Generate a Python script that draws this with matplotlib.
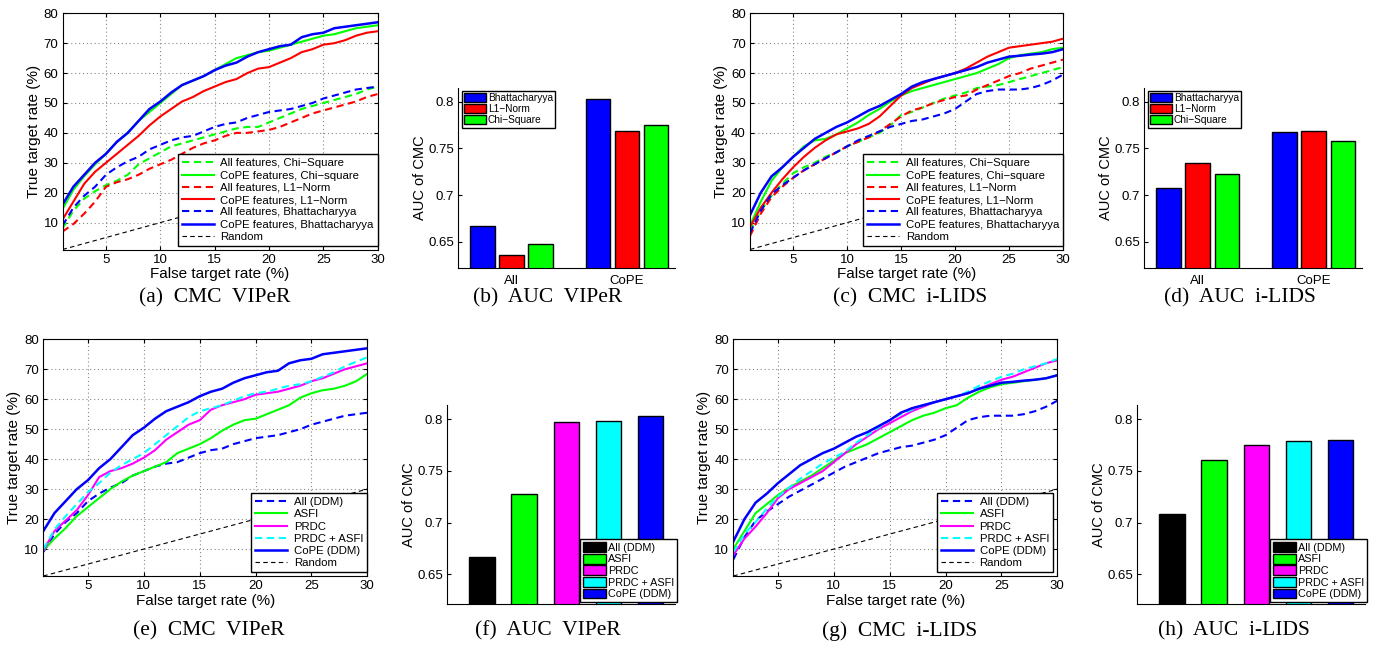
import numpy as np
import matplotlib
matplotlib.use("Agg")
import matplotlib.pyplot as plt

plt.rcParams['font.family'] = ['Liberation Sans', 'DejaVu Sans']

# ---------------- data ----------------
fpr = list(range(1, 31))

# VIPeR (a), (e)
viper_cope_bhatt = [16, 22, 26, 30, 33, 37, 40, 44, 48, 50.5, 53.5, 56, 57.5, 59, 61, 62.5, 63.5, 65.5, 67, 68,
                    69, 69.5, 72, 73, 73.5, 75, 75.5, 76, 76.5, 77]
viper_cope_chi = [14.5, 21, 25.5, 29.5, 33, 37, 40, 44, 47, 50, 53, 56, 57.5, 59, 61, 63, 65, 66, 67, 67.5,
                  68.5, 69.5, 70.5, 71.5, 72.5, 73, 74, 75, 75.5, 76]
viper_cope_l1 = [11, 17, 23, 27, 30, 33, 36, 39, 42.5, 45.5, 48, 50.5, 52, 54, 55.5, 57, 58, 60, 61.5, 62,
                 63.5, 65, 67, 68, 69.5, 70, 71, 72.5, 73.5, 74]
viper_all_bhatt = [9, 15, 19, 22, 26, 28.5, 30.5, 32, 34.5, 36, 37.5, 38.5, 39, 40.5, 42, 43, 43.5, 45, 46, 47,
                   47.5, 48, 49, 50, 51.5, 52.5, 53.5, 54.5, 55, 55.5]
viper_all_chi = [8, 14, 18, 20.5, 22.5, 24, 26, 29.5, 31.5, 33.5, 35.5, 36.5, 37.5, 38.5, 39.5, 40.5, 41.5, 42, 42,
                 43.5, 45, 46.5, 48, 49, 50, 51, 52, 53, 54.5, 55.5]
viper_all_l1 = [7, 9.5, 13, 17, 22, 23.5, 24.5, 26, 28, 29.5, 31, 33, 35, 36.5, 37.5, 39, 40, 40, 40.5, 41,
                42, 43.5, 45, 46.5, 47.5, 48.5, 49.5, 50.5, 52, 53]
viper_asfi = [9.5, 13.5, 17, 21, 24, 27, 30, 32.5, 34.5, 36, 37.5, 39, 42, 43.5, 45, 47, 49.5, 51.5, 53, 53.5,
              55, 56.5, 58, 60.5, 62, 63, 63.5, 64.5, 66, 68.5]
viper_prdc = [9.5, 16, 19.5, 23, 28, 34, 36, 37, 38.5, 40.5, 43, 46.5, 49, 51.5, 53, 56.5, 58, 59, 60, 61.5,
              62, 62.5, 63.5, 64.5, 66, 67, 68.5, 70, 71, 72]
viper_prdc_asfi = [10, 16.5, 21, 25, 29, 32, 35.5, 38, 40, 42, 45, 48, 51, 54, 56, 57, 58, 59.5, 61, 62,
                   62.5, 63.5, 64.5, 65, 66, 67.5, 69, 71, 72.5, 74]

# i-LIDS (c), (g)
ilids_cope_bhatt = [12.5, 20, 25.5, 28.5, 32, 35, 38, 40, 42, 43.5, 45.5, 47.5, 49, 51, 53, 55.5, 57, 58, 59, 60,
                    61, 62, 63.5, 64.5, 65.5, 65.8, 66.2, 66.5, 67, 68]
ilids_cope_chi = [9, 17, 24, 28.5, 32, 35.5, 37.5, 38, 39.5, 41.5, 43.5, 46, 48, 50.5, 52.5, 54, 55, 56, 57, 58,
                  59, 60, 61.5, 63, 65, 66, 66.5, 67, 68, 68.5]
ilids_cope_l1 = [8.5, 15, 20, 24.5, 28.5, 32, 35, 37.5, 39.5, 40.5, 41.5, 43, 45.5, 49, 52.5, 55, 56.5, 58, 59, 60,
                 61.5, 63.5, 65.5, 67, 68.5, 69, 69.5, 70, 70.5, 71.5]
ilids_all_chi = [7, 14, 19, 23, 26.5, 28.5, 30, 32, 33.5, 35.5, 37, 38.5, 40, 42.5, 46, 47, 48.5, 50, 51.5, 52.5,
                 53.5, 55, 55.5, 56, 57, 58, 59, 60, 61, 62]
ilids_all_l1 = [5.5, 13, 18.5, 22, 25, 27.5, 29.5, 31.5, 33.5, 35.5, 37, 38.5, 40.5, 43, 45.5, 47.5, 48.5, 50, 51, 52,
                52.5, 54.5, 56, 57.5, 59, 60, 61.5, 62.5, 63.5, 64.5]
ilids_all_bhatt = [6.5, 14, 19.5, 22.5, 25, 27.5, 29.5, 31.5, 33.5, 35.5, 37.5, 39, 40.5, 42, 43, 44, 44.5, 45.5, 46.5, 48,
                   50.5, 53, 54, 54.5, 54.5, 54.5, 55, 56, 57.5, 59.5]
ilids_asfi = [10, 16, 22, 25, 28, 30.5, 32.5, 34.5, 37, 39.5, 42, 43.5, 45, 47, 49, 51, 53, 54.5, 55.5, 57,
              58, 60.5, 62.5, 64, 65, 65.5, 66, 66.5, 67, 68]
ilids_prdc = [8, 13.5, 17.5, 22, 27, 30, 32, 34, 36, 39, 42, 45, 47.5, 50, 52, 54, 56, 57.5, 59, 60,
              61, 62, 63.5, 65, 66.5, 67.5, 69, 70.5, 72, 73]
ilids_prdc_asfi = [9, 15, 19, 23.5, 27.5, 30.5, 33.5, 36, 38.5, 40.5, 42.5, 45.5, 48, 50.5, 53, 55, 56.5, 58, 59, 60,
                   61, 62.5, 64.5, 66, 67.5, 68.5, 70, 71, 72, 73.5]

# AUC bars
auc_groups = ["All", "CoPE"]
auc_metrics = ["Bhattacharyya", "L1\u2212Norm", "Chi\u2212Square"]
auc_viper = {"Bhattacharyya": [0.667, 0.803], "L1\u2212Norm": [0.636, 0.769], "Chi\u2212Square": [0.647, 0.775]}
auc_ilids = {"Bhattacharyya": [0.708, 0.768], "L1\u2212Norm": [0.734, 0.769], "Chi\u2212Square": [0.723, 0.758]}

method_names = ["All (DDM)", "ASFI", "PRDC", "PRDC + ASFI", "CoPE (DDM)"]
auc_viper_methods = [0.667, 0.728, 0.797, 0.798, 0.803]
auc_ilids_methods = [0.708, 0.761, 0.775, 0.779, 0.780]

# ---------------- style ----------------
BLUE, RED, GREEN, MAG, CYAN = '#0000FF', '#FF0000', '#00FF00', '#FF00FF', '#00FFFF'
DASH = (0, (3.5, 2.2))
W, H = 1379, 650

fig = plt.figure(figsize=(W / 100, H / 100), dpi=100)


def ax_at(x0, y0, x1, y1):
    return fig.add_axes([x0 / W, 1 - y1 / H, (x1 - x0) / W, (y1 - y0) / H])


def cmc_axes(ax):
    ax.set_xlim(1, 30)
    ax.set_ylim(1, 80)
    ax.set_xticks([5, 10, 15, 20, 25, 30])
    ax.set_yticks([10, 20, 30, 40, 50, 60, 70, 80])
    ax.grid(True, linestyle=(0, (1, 2.5)), color='#888888', linewidth=0.8)
    ax.tick_params(direction='in', length=3, labelsize=9.5, top=True, right=True, pad=3)
    for s in ax.spines.values():
        s.set_linewidth(0.8)
    ax.set_xlabel("False target rate (%)", fontsize=11, labelpad=1)
    ax.set_ylabel("True target rate (%)", fontsize=11, labelpad=2)


def cmc_legend(ax, right):
    leg = ax.legend(loc='lower right', bbox_to_anchor=(right, 0.015), borderaxespad=0,
                    fontsize=8.2, handlelength=2.8, labelspacing=0.2, handletextpad=0.6,
                    borderpad=0.35, fancybox=False, framealpha=1, edgecolor='black')
    leg.get_frame().set_linewidth(1.0)


def random_line(ax):
    ax.plot(fpr, fpr, color='black', linestyle=(0, (4, 3)), linewidth=0.8, label='Random')


# (a) CMC VIPeR
ax = ax_at(62.5, 13.3, 377.7, 249.5)
ax.plot(fpr, viper_all_chi, color=GREEN, ls=DASH, lw=1.5, label='All features, Chi\u2212Square')
ax.plot(fpr, viper_cope_chi, color=GREEN, lw=1.5, label='CoPE features, Chi\u2212square')
ax.plot(fpr, viper_all_l1, color=RED, ls=DASH, lw=1.5, label='All features, L1\u2212Norm')
ax.plot(fpr, viper_cope_l1, color=RED, lw=1.5, label='CoPE features, L1\u2212Norm')
ax.plot(fpr, viper_all_bhatt, color=BLUE, ls=DASH, lw=1.5, label='All features, Bhattacharyya')
ax.plot(fpr, viper_cope_bhatt, color=BLUE, lw=1.8, label='CoPE features, Bhattacharyya')
random_line(ax)
cmc_axes(ax)
cmc_legend(ax, 1.0)

# (c) CMC i-LIDS
ax = ax_at(750, 13.3, 1063, 249.5)
ax.plot(fpr, ilids_all_chi, color=GREEN, ls=DASH, lw=1.5, label='All features, Chi\u2212Square')
ax.plot(fpr, ilids_cope_chi, color=GREEN, lw=1.5, label='CoPE features, Chi\u2212square')
ax.plot(fpr, ilids_all_l1, color=RED, ls=DASH, lw=1.5, label='All features, L1\u2212Norm')
ax.plot(fpr, ilids_cope_l1, color=RED, lw=1.5, label='CoPE features, L1\u2212Norm')
ax.plot(fpr, ilids_all_bhatt, color=BLUE, ls=DASH, lw=1.5, label='All features, Bhattacharyya')
ax.plot(fpr, ilids_cope_bhatt, color=BLUE, lw=1.8, label='CoPE features, Bhattacharyya')
random_line(ax)
cmc_axes(ax)
cmc_legend(ax, 1.0)

# (e) CMC VIPeR methods
ax = ax_at(43.3, 339.3, 367.3, 576)
ax.plot(fpr, viper_all_bhatt, color=BLUE, ls=DASH, lw=1.5, label='All (DDM)')
ax.plot(fpr, viper_asfi, color=GREEN, lw=1.5, label='ASFI')
ax.plot(fpr, viper_prdc, color=MAG, lw=1.5, label='PRDC')
ax.plot(fpr, viper_prdc_asfi, color=CYAN, ls=DASH, lw=1.5, label='PRDC + ASFI')
ax.plot(fpr, viper_cope_bhatt, color=BLUE, lw=1.8, label='CoPE (DDM)')
random_line(ax)
cmc_axes(ax)
cmc_legend(ax, 1.0)

# (g) CMC i-LIDS methods
ax = ax_at(733.3, 339.3, 1057.3, 576)
ax.plot(fpr, ilids_all_bhatt, color=BLUE, ls=DASH, lw=1.5, label='All (DDM)')
ax.plot(fpr, ilids_asfi, color=GREEN, lw=1.5, label='ASFI')
ax.plot(fpr, ilids_prdc, color=MAG, lw=1.5, label='PRDC')
ax.plot(fpr, ilids_prdc_asfi, color=CYAN, ls=DASH, lw=1.5, label='PRDC + ASFI')
ax.plot(fpr, ilids_cope_bhatt, color=BLUE, lw=1.8, label='CoPE (DDM)')
random_line(ax)
cmc_axes(ax)
cmc_legend(ax, 0.987)


def bar_axes(ax, ylim):
    ax.set_ylim(*ylim)
    ax.set_yticks([0.65, 0.7, 0.75, 0.8])
    ax.set_yticklabels(['0.65', '0.7', '0.75', '0.8'])
    ax.spines['top'].set_visible(False)
    ax.spines['right'].set_visible(False)
    ax.spines['left'].set_linewidth(0.8)
    ax.spines['bottom'].set_linewidth(0.8)
    ax.tick_params(axis='y', direction='in', length=3, labelsize=9.5, pad=3)
    ax.tick_params(axis='x', length=0, labelsize=9.5, pad=5)
    ax.set_ylabel("AUC of CMC", fontsize=10.5, labelpad=1)


def grouped(ax, data, colors):
    xs = np.arange(1, len(auc_groups) + 1)
    offs = [-0.2515, 0, 0.2515]
    for m, o, c in zip(auc_metrics, offs, colors):
        ax.bar(xs + o, data[m], width=0.21, color=c, edgecolor='black', linewidth=1.0, label=m)
    ax.set_xticks(xs)
    ax.set_xticklabels(auc_groups)
    ax.set_xlim(0.537, 2.418)
    leg = ax.legend(loc='upper left', bbox_to_anchor=(0.018, 0.985), borderaxespad=0,
                    fontsize=7.3, handlelength=2.1, handleheight=0.95, labelspacing=0.1,
                    handletextpad=0.2, borderpad=0.25, fancybox=False, framealpha=1,
                    edgecolor='black')
    leg.get_frame().set_linewidth(1.0)


def methods(ax, vals, colors):
    xs = np.arange(1, len(method_names) + 1)
    ax.bar(xs, vals, width=0.6, color=colors, edgecolor='black', linewidth=1.0, label=None)
    handles = [plt.Rectangle((0, 0), 1, 1, facecolor=c, edgecolor='black', linewidth=1.0) for c in colors]
    ax.set_xticks([])
    ax.set_xlim(0.17, 5.58)
    leg = ax.legend(handles, method_names, loc='lower right', bbox_to_anchor=(1.008, 0.01),
                    borderaxespad=0, fontsize=7.8, handlelength=2.1, handleheight=1.0,
                    labelspacing=0.1, handletextpad=0.2, borderpad=0.25, fancybox=False,
                    framealpha=1, edgecolor='black')
    leg.get_frame().set_linewidth(1.0)


# (b) AUC VIPeR
ax = ax_at(458, 88, 675, 268)
grouped(ax, auc_viper, [BLUE, RED, GREEN])
bar_axes(ax, (0.6218, 0.8147))

# (d) AUC i-LIDS
ax = ax_at(1144, 88, 1362, 268)
grouped(ax, auc_ilids, [BLUE, RED, GREEN])
bar_axes(ax, (0.6218, 0.8147))

mcolors = ['black', GREEN, MAG, CYAN, BLUE]
# (f) AUC VIPeR methods
ax = ax_at(447, 405, 675, 604)
methods(ax, auc_viper_methods, mcolors)
bar_axes(ax, (0.6213, 0.8138))

# (h) AUC i-LIDS methods
ax = ax_at(1137, 405, 1365, 604)
methods(ax, auc_ilids_methods, mcolors)
bar_axes(ax, (0.6213, 0.8138))

captions = [("(a)  CMC  VIPeR", 215, 298), ("(b)  AUC  VIPeR", 548, 298),
            ("(c)  CMC  i-LIDS", 910, 298), ("(d)  AUC  i-LIDS", 1240, 298),
            ("(e)  CMC  VIPeR", 209, 631), ("(f)  AUC  VIPeR", 548, 631),
            ("(g)  CMC  i-LIDS", 900, 631), ("(h)  AUC  i-LIDS", 1234, 631)]
for t, x, y in captions:
    fig.text(x / W, 1 - y / H, t, ha='center', va='center', fontsize=15.5,
             family=['Liberation Serif', 'DejaVu Serif'])

fig.savefig("out.png", dpi=100)
